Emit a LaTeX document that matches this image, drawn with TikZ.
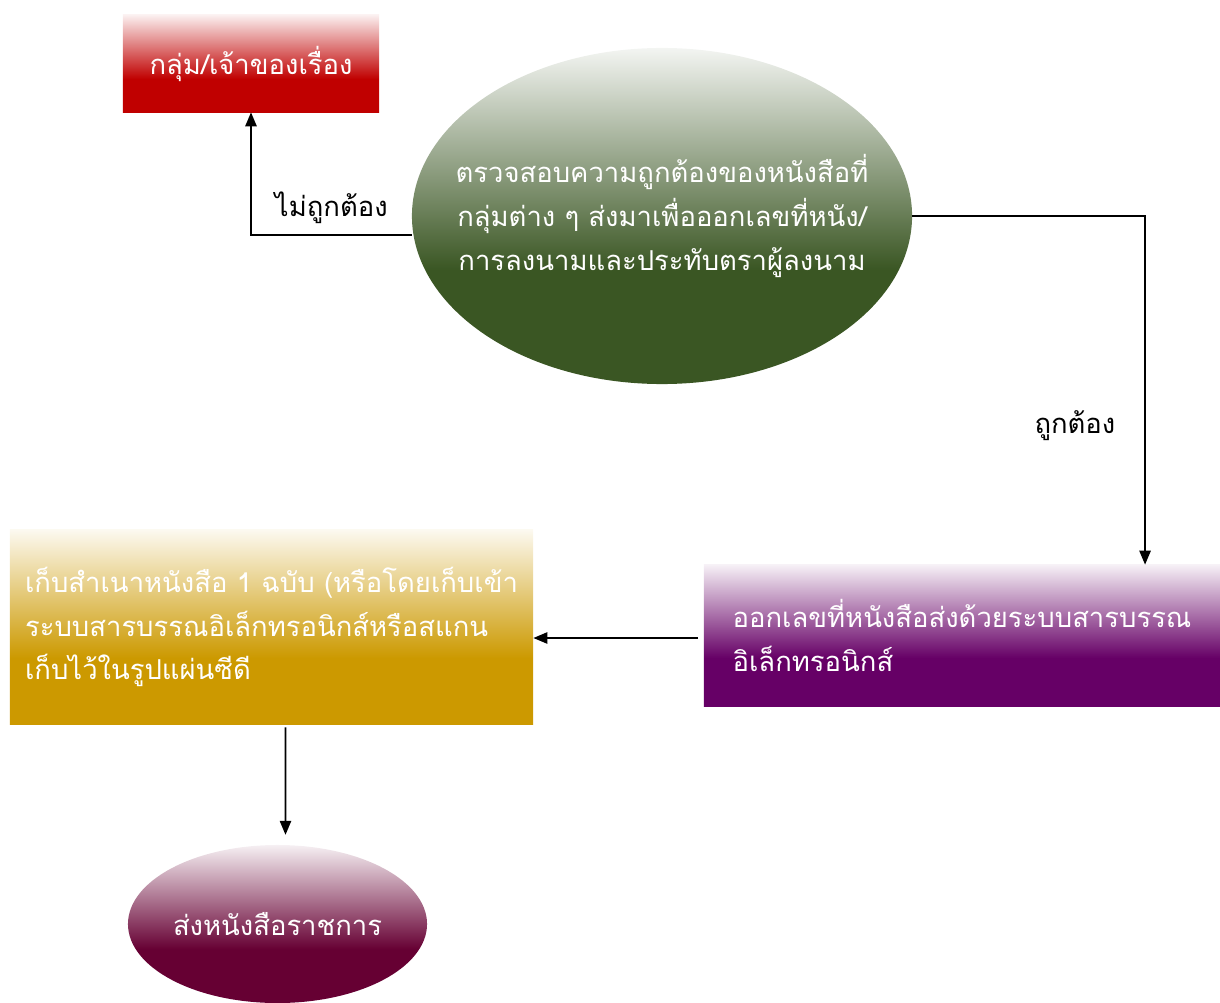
\documentclass[tikz,border=0pt]{standalone}
\usepackage{fontspec}
\setmainfont[Script=Thai]{Loma}
\usepackage{xcolor}
\usetikzlibrary{positioning, shapes.geometric, arrows.meta, calc}

\definecolor{ownerred}{HTML}{C00000}
\definecolor{checkgreen}{HTML}{3A5623}
\definecolor{issuepurple}{HTML}{660066}
\definecolor{storegold}{HTML}{CC9900}
\definecolor{sendwine}{HTML}{660033}

% fade from a pale tint at the top to the full colour below
\colorlet{fadecol}{ownerred}
\pgfdeclareverticalshading[fadecol]{fade}{100bp}{color(0bp)=(fadecol); color(25bp)=(fadecol); color(42bp)=(fadecol); color(75bp)=(fadecol!6!white); color(100bp)=(fadecol!6!white)}

\begin{document}
\begin{tikzpicture}[
      x=0.025cm, y=-0.025cm,
      fadein/.code={\colorlet{fadecol}{#1}},
      box/.style={rectangle, inner sep=0pt, shading=fade, text=white, align=left, font=\fontsize{19.5}{31}\selectfont},
      oval/.style={ellipse, inner xsep=-3cm, inner ysep=-1.5cm, shading=fade, text=white, align=center, font=\fontsize{19.5}{31}\selectfont},
      label/.style={font=\fontsize{19.5}{31}\selectfont},
      arrow/.style={-{Triangle[length=10pt, width=8pt]}, line width=1.4pt}
    ]

    \useasboundingbox (0,0) rectangle (1220,1003);

    % Boxes
    \node[box, fadein=ownerred, minimum width=6.4cm, minimum height=2.425cm] (owner) at (251,63.5) {กลุ่ม/เจ้าของเรื่อง};
    \node[oval, fadein=checkgreen, minimum width=12.5cm, minimum height=8.4cm] (check) at (662,216)
      {ตรวจสอบความถูกต้องของหนังสือที่\\กลุ่มต่าง ๆ ส่งมาเพื่อออกเลขที่หนัง/\\การลงนามและประทับตราผู้ลงนาม};
    \node[box, fadein=issuepurple, minimum width=12.9cm, minimum height=3.525cm] (issue) at (962,635.5)
      {ออกเลขที่หนังสือส่งด้วยระบบสารบรรณ\\อิเล็กทรอนิกส์};
    \node[box, fadein=storegold, minimum width=13.075cm, minimum height=4.85cm] (store) at (271.5,627)
      {เก็บสำเนาหนังสือ 1 ฉบับ (หรือโดยเก็บเข้า\\ระบบสารบรรณอิเล็กทรอนิกส์หรือสแกน\\เก็บไว้ในรูปแผ่นซีดี};
    \node[oval, fadein=sendwine, minimum width=7.475cm, minimum height=3.95cm] (send) at (277.5,924) {ส่งหนังสือราชการ};

    % Connectors
    \draw[arrow] ([yshift=-0.475cm]check.west) -| node[label, pos=0.25, above=4pt] {ไม่ถูกต้อง} (owner.south);
    \draw[arrow] (check.east) -| node[label, pos=0.8, left=0.6cm] {ถูกต้อง} ([xshift=4.575cm]issue.north);
    \draw[arrow, shorten <=4pt] (issue.west |- 0,638) -- (store.east |- 0,638);
    \draw[arrow, shorten >=7pt] ([xshift=0.35cm, yshift=-0.075cm]store.south) -- ([xshift=0.2cm]send.north);

  \end{tikzpicture}
\end{document}
